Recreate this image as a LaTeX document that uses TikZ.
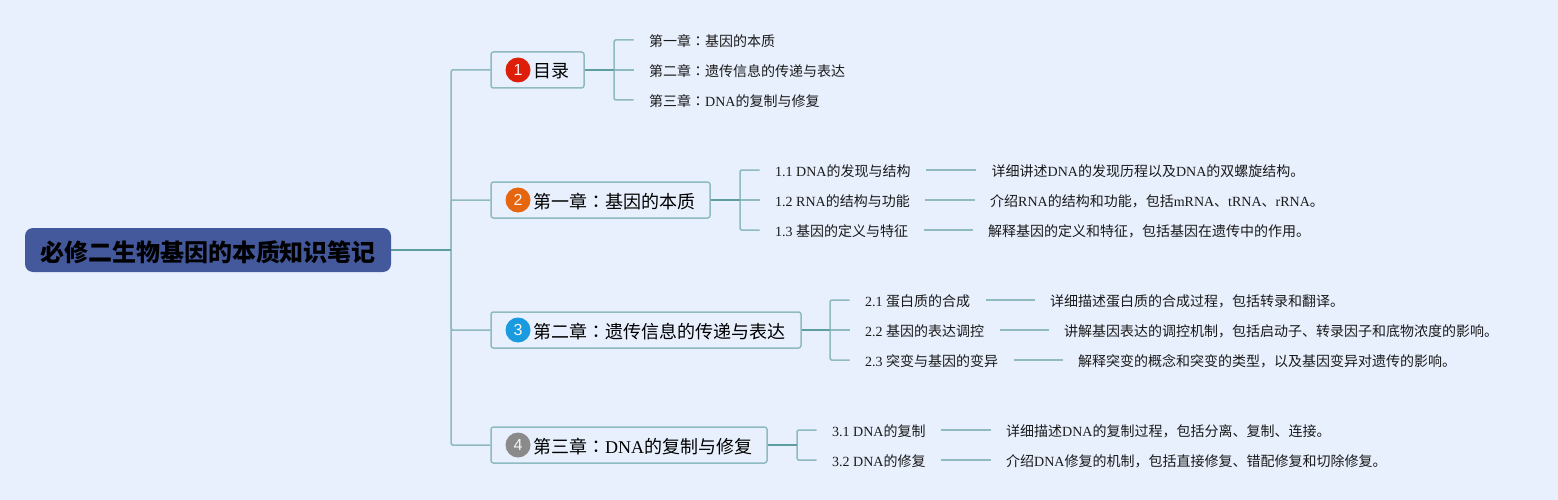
\documentclass[tikz,border=0pt]{standalone}
\usepackage{fontspec}
\setmainfont{Liberation Serif}
\setsansfont{Liberation Sans}
\newfontfamily\cjsc{Noto Sans CJK SC}
\newfontfamily\cjtc{Noto Sans CJK TC}
\newcommand{\cj}[1]{{\cjsc #1}}
\newcommand{\cl}{{\cjtc ：}}
\definecolor{bgc}{HTML}{E8F0FD}
\definecolor{linec}{HTML}{8FBAC0}
\definecolor{stemc}{HTML}{5F9EA0}
\definecolor{rootc}{HTML}{44589C}
\definecolor{txtc}{HTML}{1A1A1A}
\definecolor{badgea}{HTML}{DD1F0A}
\definecolor{badgeb}{HTML}{E66610}
\definecolor{badgec}{HTML}{1A9BE0}
\definecolor{badged}{HTML}{8A8A8A}
\tikzset{
 x=1pt,y=-1pt,
 conn/.style={draw=linec,line width=1.5pt,rounded corners=1.5pt},
 stem/.style={draw=stemc,line width=1.6pt},
 rootbox/.style={draw=none,fill=rootc,rounded corners=8pt,inner sep=0pt,minimum width=366pt,minimum height=44pt},
 roottext/.style={font=\fontsize{24}{26}\selectfont\bfseries,text=black,inner sep=0pt},
 brbox/.style={draw=linec,line width=1.5pt,fill=bgc,rounded corners=2.5pt,inner sep=0pt,minimum height=36pt},
 brtext/.style={anchor=west,font=\fontsize{18}{20}\selectfont,text=black,inner sep=0pt,text height=19pt,text depth=3pt},
 badge/.style={circle,inner sep=0pt,minimum size=25pt,text=white!92!gray,font=\sffamily\fontsize{16}{16}\selectfont},
 leaf/.style={anchor=west,font=\fontsize{14}{16}\selectfont,text=txtc,inner ysep=0pt,inner xsep=15.5pt,text height=15pt,text depth=2pt},
}
\begin{document}
\begin{tikzpicture}
\useasboundingbox[fill=bgc] (0,0) rectangle (1558,500);
% root
\node[rootbox] (root) at (208,250) {};
\node[roottext] (roottxt) at (208,252) {\cjsc\bfseries 必修二生物基因的本质知识笔记};
% trunk
\coordinate (tk) at (451,250);
\coordinate (tk1) at (451,70);
\coordinate (tk4) at (451,445);
% branch boxes
\node[brbox,minimum width=93pt] (b1) at (537.5,70) {};
\node[brbox,minimum width=219pt] (b2) at (600.5,200) {};
\node[brbox,minimum width=310pt] (b3) at (646,330) {};
\node[brbox,minimum width=276pt] (b4) at (629,445) {};
\draw[conn] (b1.west) -| (tk) |- (b4.west);
\draw[conn] (tk) |- (b2.west);
\draw[conn] (tk) |- (b3.west);
\draw[stem] (root.east) -- (tk);
% badges
\node[badge,fill=badgea] (n1) at (518,70) {1};
\node[badge,fill=badgeb] (n2) at (518,200) {2};
\node[badge,fill=badgec] (n3) at (518,330) {3};
\node[badge,fill=badged] (n4) at (518,445) {4};
\node[brtext] (t1) at (533,70) {\cj{目录}};
\node[brtext] (t2) at (533,200) {\cj{第一章}\cl\cj{基因的本质}};
\node[brtext] (t3) at (533,330) {\cj{第二章}\cl\cj{遗传信息的传递与表达}};
\node[brtext] (t4) at (533,445) {\cj{第三章}\cl DNA\cj{的复制与修复}};
% group 1
\node[leaf] (a1) at (633.5,40) {\cj{第一章}\cl\cj{基因的本质}};
\node[leaf] (a2) at (633.5,70) {\cj{第二章}\cl\cj{遗传信息的传递与表达}};
\node[leaf] (a3) at (633.5,100) {\cj{第三章}\cl DNA\cj{的复制与修复}};
\coordinate (j1) at (614,70);
\draw[conn] (a1.west) -| (j1) |- (a3.west);
\draw[conn] (j1) -- (a2.west);
\draw[stem] (b1.east) -- (j1);
% group 2
\node[leaf] (c1) at (759.5,170) {1.1 DNA\cj{的发现与结构}};
\node[leaf] (c2) at (759.5,200) {1.2 RNA\cj{的结构与功能}};
\node[leaf] (c3) at (759.5,230) {1.3 \cj{基因的定义与特征}};
\coordinate (j2) at (740,200);
\draw[conn] (c1.west) -| (j2) |- (c3.west);
\draw[conn] (j2) -- (c2.west);
\draw[stem] (b2.east) -- (j2);
\node[leaf] (d1) at (976,170) {\cj{详细讲述}DNA\cj{的发现历程以及}DNA\cj{的双螺旋结构。}};
\node[leaf] (d2) at (974.5,200) {\cj{介绍}RNA\cj{的结构和功能，包括}mRNA\cj{、}tRNA\cj{、}rRNA\cj{。}};
\node[leaf] (d3) at (972.5,230) {\cj{解释基因的定义和特征，包括基因在遗传中的作用。}};
\draw[conn] (c1.east) -- (d1.west);
\draw[conn] (c2.east) -- (d2.west);
\draw[conn] (c3.east) -- (d3.west);
% group 3
\node[leaf] (e1) at (849.5,300) {2.1 \cj{蛋白质的合成}};
\node[leaf] (e2) at (849.5,330) {2.2 \cj{基因的表达调控}};
\node[leaf] (e3) at (849.5,360) {2.3 \cj{突变与基因的变异}};
\coordinate (j3) at (830,330);
\draw[conn] (e1.west) -| (j3) |- (e3.west);
\draw[conn] (j3) -- (e2.west);
\draw[stem] (b3.east) -- (j3);
\node[leaf] (f1) at (1034.5,300) {\cj{详细描述蛋白质的合成过程，包括转录和翻译。}};
\node[leaf] (f2) at (1048.5,330) {\cj{讲解基因表达的调控机制，包括启动子、转录因子和底物浓度的影响。}};
\node[leaf] (f3) at (1062.5,360) {\cj{解释突变的概念和突变的类型，以及基因变异对遗传的影响。}};
\draw[conn] (e1.east) -- (f1.west);
\draw[conn] (e2.east) -- (f2.west);
\draw[conn] (e3.east) -- (f3.west);
% group 4
\node[leaf] (g1) at (816.5,430) {3.1 DNA\cj{的复制}};
\node[leaf] (g2) at (816.5,460) {3.2 DNA\cj{的修复}};
\coordinate (j4) at (797,445);
\draw[conn] (g1.west) -| (j4) |- (g2.west);
\draw[stem] (b4.east) -- (j4);
\node[leaf] (h1) at (990.5,430) {\cj{详细描述}DNA\cj{的复制过程，包括分离、复制、连接。}};
\node[leaf] (h2) at (990.5,460) {\cj{介绍}DNA\cj{修复的机制，包括直接修复、错配修复和切除修复。}};
\draw[conn] (g1.east) -- (h1.west);
\draw[conn] (g2.east) -- (h2.west);
\end{tikzpicture}
\end{document}
